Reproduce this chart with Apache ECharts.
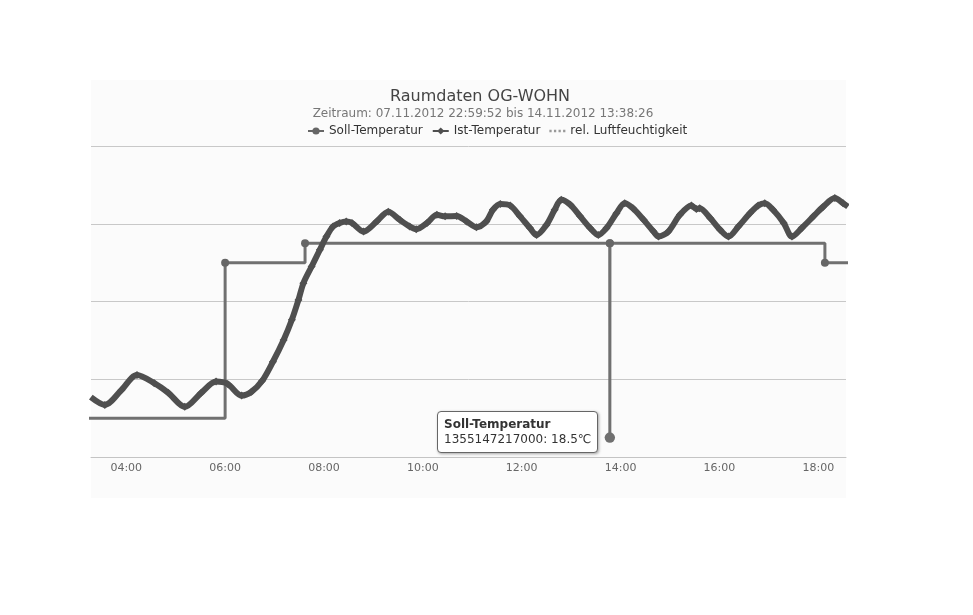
<!DOCTYPE html>
<html>
<head>
<meta charset="utf-8">
<script src="https://cdn.jsdelivr.net/npm/echarts@6/dist/echarts.min.js"></script>
<style>
html,body{margin:0;padding:0;background:#fff;}
#c{width:973px;height:615px;}
</style>
</head>
<body>
<div id="c"></div>
<script>
// ---- data (UTC, 10.12.2012) ----
const dayUTC = [2012, 11, 10];
const titleText = 'Raumdaten OG-WOHN';
const subtitleText = 'Zeitraum: 07.11.2012 22:59:52 bis 14.11.2012 13:38:26';
const seriesNames = ['Soll-Temperatur', 'Ist-Temperatur', 'rel. Luftfeuchtigkeit'];
const axisRange = ['03:17:12', '18:33:36'];
const tickLabels = ['04:00', '06:00', '08:00', '10:00', '12:00', '14:00', '16:00', '18:00'];
const yRange = [18, 26];

const sollTimes = ['03:00', '06:00', '07:37', '13:46:50', '13:46:57', '13:47:05', '18:08', '19:00'];
const sollValues = [19.0, 23.0, 23.5, 23.5, 18.5, 23.5, 23.0, 23.0];
const tooltipIndex = 4;

const istTimes = ['03:17','03:34','03:54','04:13','04:34','04:51','05:11','05:31','05:49','06:03',
  '06:20','06:32','06:45','06:58','07:11','07:21','07:29','07:35','07:45','07:55',
  '08:03','08:11','08:19','08:27','08:34','08:48','09:04','09:18','09:32','09:44',
  '09:52','10:05','10:17','10:27','10:41','10:53','11:05','11:17','11:25','11:34',
  '11:46','11:58','12:10','12:18','12:30','12:40','12:48','12:59','13:11','13:23',
  '13:33','13:43','13:55','14:05','14:15','14:28','14:40','14:46','14:58','15:12',
  '15:26','15:32','15:36','15:49','16:01','16:11','16:23','16:37','16:47','16:55',
  '17:05','17:18','17:28','17:40','17:54','18:06','18:20','18:30','18:36'];
const istValues = [19.54,19.34,19.72,20.11,19.90,19.65,19.29,19.65,19.94,19.88,
  19.58,19.68,19.96,20.45,21.01,21.53,22.04,22.47,22.90,23.33,
  23.67,23.93,24.02,24.06,24.02,23.80,24.06,24.31,24.10,23.93,
  23.86,24.02,24.23,24.19,24.20,24.06,23.91,24.06,24.36,24.51,
  24.47,24.19,23.89,23.71,23.97,24.36,24.62,24.49,24.19,23.89,
  23.71,23.89,24.27,24.53,24.40,24.10,23.80,23.67,23.80,24.23,
  24.47,24.38,24.40,24.14,23.84,23.67,23.93,24.27,24.47,24.53,
  24.36,24.02,23.67,23.89,24.19,24.44,24.66,24.53,24.44];
const humidityValues = [];

// ---- helpers ----
function ts(s) {
  const p = s.split(':').map(Number);
  return Date.UTC(dayUTC[0], dayUTC[1], dayUTC[2], p[0], p[1], p[2] || 0);
}
function pad(n) { return (n < 10 ? '0' : '') + n; }
const FONT = 'DejaVu Sans';

const sollData = sollTimes.map((t, i) => [ts(t), sollValues[i]]);
const istData = istTimes.map((t, i) => [ts(t), istValues[i]]);
const tickValues = tickLabels.map(ts);

const chart = echarts.init(document.getElementById('c'));
chart.setOption({
  animation: false,
  useUTC: true,
  backgroundColor: '#ffffff',
  graphic: [{
    type: 'rect', z: -100, silent: true,
    shape: { x: 91, y: 80, width: 755, height: 418 },
    style: { fill: '#fbfbfb' }
  }],
  title: [{
    text: titleText, left: 480, top: 89, textAlign: 'center', padding: 0,
    textStyle: { fontFamily: FONT, fontSize: 16, fontWeight: 'normal', color: '#444' }
  }, {
    text: subtitleText, left: 483, top: 108, textAlign: 'center', padding: 0,
    textStyle: { fontFamily: FONT, fontSize: 12, fontWeight: 'normal', color: '#777' }
  }],
  legend: {
    left: 307, top: 125, padding: 0,
    itemWidth: 16, itemHeight: 9, itemGap: 9,
    lineStyle: { width: 2 },
    textStyle: { fontFamily: FONT, fontSize: 12, color: '#333' },
    data: [
      { name: seriesNames[0] },
      { name: seriesNames[1] },
      { name: seriesNames[2], icon: 'path://M0,0h2v2h-2z M4,0h2v2h-2z M8,0h2v2h-2z M12,0h2v2h-2z' }
    ]
  },
  grid: { left: 91, right: 127, top: 146, bottom: 158, containLabel: false },
  tooltip: {
    trigger: 'item',
    alwaysShowContent: true,
    transitionDuration: 0,
    backgroundColor: '#ffffff',
    borderColor: '#666',
    borderWidth: 1.5,
    padding: [5, 6],
    textStyle: { fontFamily: FONT, fontSize: 12, color: '#333' },
    extraCssText: 'border-radius:4px;box-shadow:1px 1px 3px rgba(0,0,0,0.35);line-height:15px;',
    position: function (point) { return [point[0] - 173, point[1] - 27]; },
    formatter: function (p) {
      return '<div style="font-weight:bold;line-height:15px;">' + p.seriesName + '</div>' +
             '<div style="line-height:15px;">' + p.value[0] + ': ' + p.value[1] + '℃</div>';
    }
  },
  xAxis: {
    type: 'value',
    min: ts(axisRange[0]), max: ts(axisRange[1]),
    axisLine: { show: true, lineStyle: { color: '#c4c4c4', width: 1 } },
    axisTick: { show: false },
    splitLine: { show: false },
    axisLabel: {
      customValues: tickValues,
      margin: 6,
      fontFamily: FONT, fontSize: 11, color: '#666',
      formatter: function (v) {
        const d = new Date(Math.round(v));
        return pad(d.getUTCHours()) + ':' + pad(d.getUTCMinutes());
      }
    }
  },
  yAxis: {
    type: 'value', min: yRange[0], max: yRange[1], interval: 2,
    axisLine: { show: false }, axisTick: { show: false }, axisLabel: { show: false },
    splitLine: { show: true, lineStyle: { color: '#c8c8c8', width: 1 } }
  },
  series: [{
    name: seriesNames[0], type: 'line', step: 'end',
    data: sollData,
    color: '#666666',
    lineStyle: { width: 3, color: '#666666' },
    symbol: 'circle', symbolSize: 8, showSymbol: true, showAllSymbol: true,
    emphasis: { scale: 1.3, lineStyle: { width: 3 } },
    z: 2
  }, {
    name: seriesNames[1], type: 'line',
    data: istData,
    smooth: 0.3,
    color: '#4f4f4f',
    lineStyle: { width: 6, color: '#4f4f4f' },
    symbol: 'diamond', symbolSize: 8, showSymbol: true, showAllSymbol: true,
    tooltip: { show: false },
    silent: true,
    z: 3
  }, {
    name: seriesNames[2], type: 'line',
    data: humidityValues,
    color: '#999999',
    lineStyle: { width: 1.5, type: 'dotted', color: '#999999' },
    symbol: 'none'
  }]
});
chart.dispatchAction({ type: 'highlight', seriesIndex: 0, dataIndex: tooltipIndex });
chart.dispatchAction({ type: 'showTip', seriesIndex: 0, dataIndex: tooltipIndex });
</script>
</body>
</html>
